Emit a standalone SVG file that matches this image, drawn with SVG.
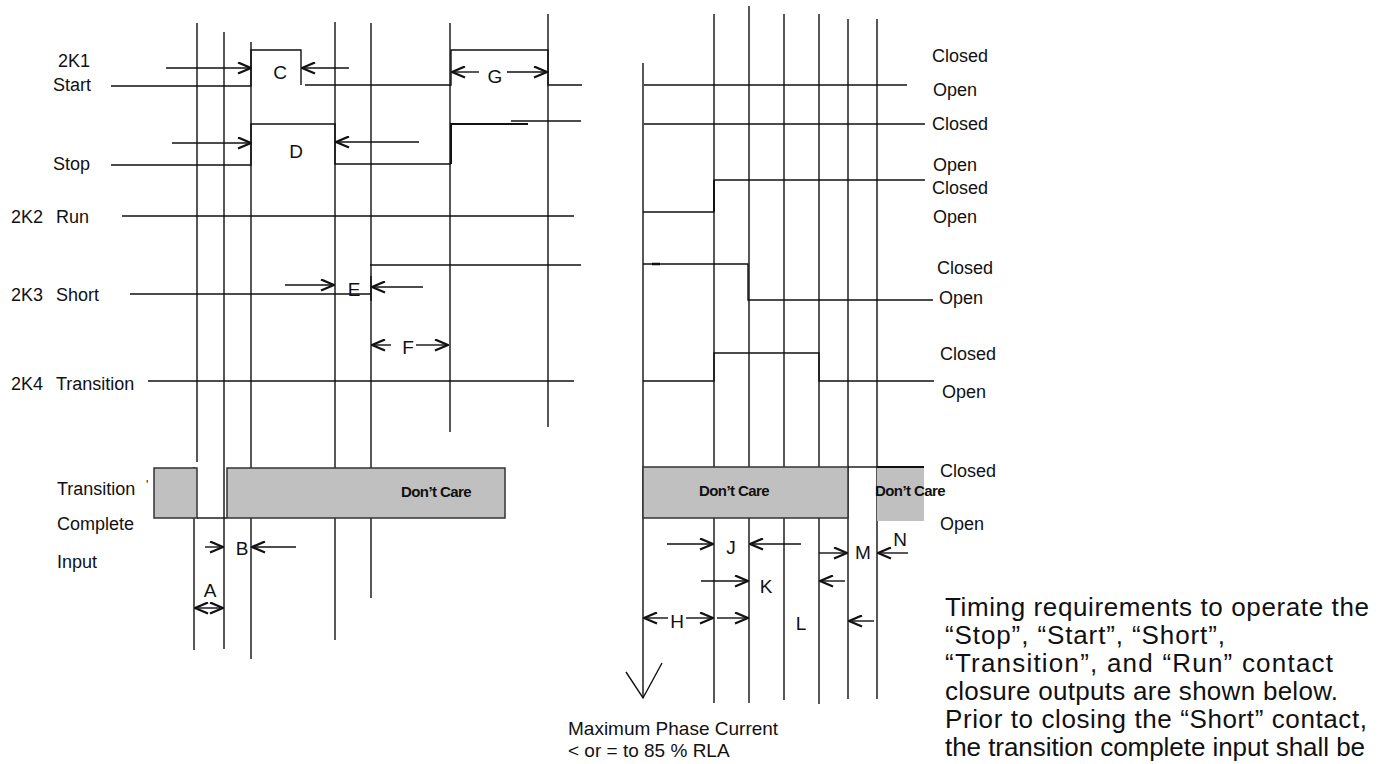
<svg xmlns="http://www.w3.org/2000/svg" width="1380" height="764" viewBox="0 0 1380 764">
<style>
.ln{stroke:#111;stroke-width:1.4;fill:none}
.th{stroke:#111;stroke-width:2;fill:none}
.ar{stroke:#111;stroke-width:1.4;fill:none;marker-end:url(#ah)}
.t{font-family:"Liberation Sans",Arial,sans-serif;font-size:18px;fill:#111}
.lt{font-family:"Liberation Sans",Arial,sans-serif;font-size:19px;fill:#111;text-anchor:middle}
.dc{font-family:"Liberation Sans",Arial,sans-serif;font-size:15px;font-weight:bold;fill:#111;text-anchor:middle;letter-spacing:-0.6px}
.p{font-family:"Liberation Sans",Arial,sans-serif;font-size:26px;fill:#111}
.gr{fill:#c0c0c0;stroke:#333;stroke-width:1.5}
</style>
<defs>
<marker id="ah" viewBox="0 0 15 13" refX="14" refY="6.5" markerWidth="15" markerHeight="13" markerUnits="userSpaceOnUse" orient="auto">
<path d="M1,1 L14,6.5 L1,12" fill="none" stroke="#111" stroke-width="2.3"/>
</marker>
</defs>
<rect width="1380" height="764" fill="#fff"/>

<g id="left-time-lines" class="ln">
<line x1="197" y1="23" x2="197" y2="462"/>
<line x1="194" y1="467" x2="194" y2="650"/>
<line x1="224" y1="32" x2="224" y2="649"/>
<line x1="251" y1="42" x2="251" y2="659"/>
<line x1="335" y1="22" x2="335" y2="640"/>
<line x1="371" y1="23" x2="371" y2="598"/>
<line x1="450" y1="23" x2="450" y2="432"/>
<line x1="548" y1="14" x2="548" y2="427"/>
</g>

<g id="right-time-lines" class="ln">
<line x1="643" y1="63" x2="643" y2="698"/>
<polyline points="626,672 643,698 662,663"/>
<line x1="714" y1="14" x2="714" y2="703"/>
<line x1="749" y1="6" x2="749" y2="703"/>
<line x1="784" y1="14" x2="784" y2="700"/>
<line x1="819" y1="14" x2="819" y2="704"/>
<line x1="848" y1="19" x2="848" y2="699"/>
<line x1="877" y1="19" x2="877" y2="699"/>
</g>

<g id="row-start">
<text class="t" x="58" y="67">2K1</text>
<text class="t" x="53" y="91">Start</text>
<polyline class="ln" points="111,86 251,86 251,50 301,50 301,85"/>
<polyline class="ln" points="305,85 451,85 451,50 548,50 548,85 582,85"/>
<line class="ln" x1="644" y1="85" x2="907" y2="85"/>
<text class="t" x="932" y="62">Closed</text>
<text class="t" x="933" y="96">Open</text>
</g>

<g id="row-stop">
<text class="t" x="53" y="170">Stop</text>
<polyline class="ln" points="111,165 251,165 251,124 335,124 335,164 451,164"/>
<polyline class="th" points="451,164 451,124 528,124"/>
<line class="ln" x1="511" y1="121" x2="581" y2="121"/>
<line class="ln" x1="644" y1="124" x2="925" y2="124"/>
<text class="t" x="932" y="130">Closed</text>
<text class="t" x="933" y="171">Open</text>
</g>

<g id="row-run">
<text class="t" x="11" y="223">2K2 <tspan x="56">Run</tspan></text>
<line class="ln" x1="122" y1="216" x2="574" y2="216"/>
<polyline class="ln" points="643,212 714,212"/>
<polyline class="th" points="714,212 714,180"/>
<line class="ln" x1="714" y1="180" x2="925" y2="180"/>
<text class="t" x="932" y="194">Closed</text>
<text class="t" x="933" y="223">Open</text>
</g>

<g id="row-short">
<text class="t" x="11" y="301">2K3 <tspan x="56">Short</tspan></text>
<line class="ln" x1="130" y1="294" x2="371" y2="294"/>
<line class="ln" x1="371" y1="276" x2="371" y2="301"/>
<line class="ln" x1="370" y1="265" x2="581" y2="265"/>
<polyline class="ln" points="643,264 748,264 748,300 933,300"/>
<line stroke="#111" stroke-width="2.5" x1="652" y1="264" x2="660" y2="264"/>
<text class="t" x="937" y="274">Closed</text>
<text class="t" x="939" y="304">Open</text>
</g>

<g id="row-transition">
<text class="t" x="11" y="390">2K4 <tspan x="56">Transition</tspan></text>
<line class="ln" x1="148" y1="381" x2="574" y2="381"/>
<polyline class="ln" points="643,381 714,381 714,353 819,353 819,381 934,381"/>
<text class="t" x="940" y="360">Closed</text>
<text class="t" x="942" y="398">Open</text>
</g>

<g id="row-complete">
<text class="t" x="57" y="495">Transition</text>
<text class="t" x="57" y="530">Complete</text>
<text class="t" x="57" y="568">Input</text>
<text class="t" x="146" y="489" style="font-size:12px">'</text>
<rect class="gr" x="154" y="468" width="43" height="50"/>
<line class="ln" x1="197" y1="518" x2="227" y2="518"/>
<rect class="gr" x="227" y="468" width="278" height="50"/>
<text class="dc" x="436" y="497">Don’t Care</text>
<rect class="gr" x="643" y="467" width="205" height="51"/>
<text class="dc" x="734" y="496">Don’t Care</text>
<line class="ln" x1="848" y1="467" x2="877" y2="467"/>
<rect x="877" y="467" width="47" height="54" fill="#c0c0c0"/>
<line class="th" x1="877" y1="467" x2="924" y2="467"/>
<text class="dc" x="910" y="496">Don’t Care</text>
<text class="t" x="940" y="477">Closed</text>
<text class="t" x="940" y="530">Open</text>
</g>

<g id="connectors">
<line class="ar" x1="166" y1="68" x2="251" y2="68"/>
<line class="ar" x1="349" y1="68" x2="302" y2="68"/>
<line class="ar" x1="172" y1="143" x2="251" y2="143"/>
<line class="ar" x1="419" y1="142" x2="336" y2="142"/>
<line class="ar" x1="479" y1="72" x2="452" y2="72"/>
<line class="ar" x1="507" y1="72" x2="547" y2="72"/>
<line class="ar" x1="285" y1="285" x2="334" y2="285"/>
<line class="ar" x1="423" y1="287" x2="372" y2="287"/>
<line class="ar" x1="391" y1="345" x2="372" y2="345"/>
<line class="ar" x1="416" y1="345" x2="448" y2="345"/>
<line class="ar" x1="205" y1="547" x2="223" y2="547"/>
<line class="ar" x1="296" y1="547" x2="252" y2="547"/>
<line class="ar" x1="209" y1="608" x2="195" y2="608"/>
<line class="ar" x1="209" y1="608" x2="223" y2="608"/>
<line class="ar" x1="667" y1="544" x2="713" y2="544"/>
<line class="ar" x1="801" y1="544" x2="750" y2="544"/>
<line class="ar" x1="701" y1="581" x2="748" y2="581"/>
<line class="ar" x1="845" y1="581" x2="820" y2="581"/>
<line class="ar" x1="819" y1="553" x2="847" y2="553"/>
<line class="ar" x1="908" y1="553" x2="878" y2="553"/>
<line class="ar" x1="668" y1="618" x2="644" y2="618"/>
<line class="ar" x1="686" y1="618" x2="713" y2="618"/>
<line class="ar" x1="717" y1="618" x2="748" y2="618"/>
<line class="ar" x1="874" y1="621" x2="849" y2="621"/>
</g>

<g id="dimension-labels">
<text class="lt" x="280" y="79">C</text>
<text class="lt" x="296" y="158">D</text>
<text class="lt" x="495" y="83">G</text>
<text class="lt" x="354" y="296">E</text>
<text class="lt" x="408" y="354">F</text>
<text class="lt" x="242" y="555">B</text>
<text class="lt" x="210" y="597">A</text>
<text class="lt" x="731" y="554">J</text>
<text class="lt" x="766" y="593">K</text>
<text class="lt" x="863" y="559">M</text>
<text class="lt" x="900" y="546">N</text>
<text class="lt" x="677" y="628">H</text>
<text class="lt" x="801" y="630">L</text>
</g>

<g id="current-note">
<text class="t" x="568" y="735" style="font-size:19px">Maximum Phase Current</text>
<text class="t" x="568" y="757" style="font-size:19px">&lt; or = to 85 % RLA</text>
</g>

<g id="paragraph">
<text class="p" x="945" y="616" textLength="424" lengthAdjust="spacing">Timing requirements to operate the</text>
<text class="p" x="945" y="644" textLength="280" lengthAdjust="spacing">“Stop”, “Start”, “Short”,</text>
<text class="p" x="945" y="672" textLength="388" lengthAdjust="spacing">“Transition”, and “Run” contact</text>
<text class="p" x="945" y="700" textLength="393" lengthAdjust="spacing">closure outputs are shown below.</text>
<text class="p" x="945" y="728" textLength="422" lengthAdjust="spacing">Prior to closing the “Short” contact,</text>
<text class="p" x="945" y="756" textLength="420" lengthAdjust="spacing">the transition complete input shall be</text>
</g>
</svg>
